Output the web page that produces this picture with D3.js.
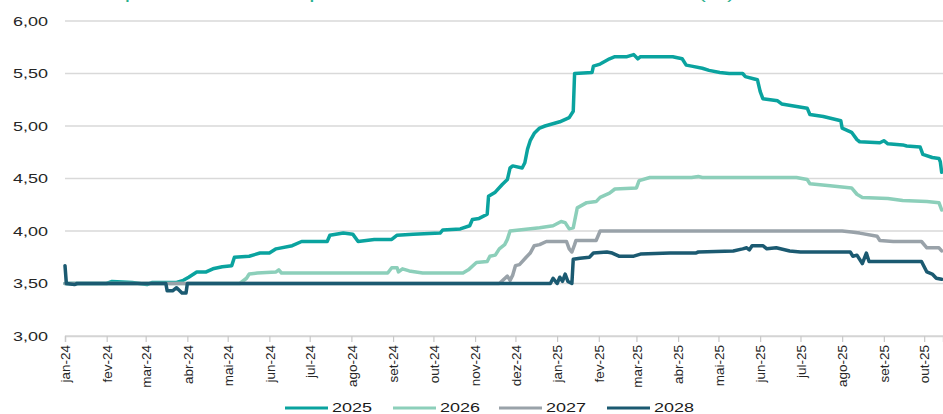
<!DOCTYPE html>
<html>
<head>
<meta charset="utf-8">
<script src="https://cdn.jsdelivr.net/npm/d3@7"></script>
<style>
  html, body { margin: 0; padding: 0; background: #ffffff; }
  svg { display: block; font-family: "Liberation Sans", Arial, sans-serif; }
</style>
</head>
<body>
<svg id="chart" width="943" height="414"></svg>
<script>
// Focus survey: market IPCA expectations per calendar year (%)
const seriesNames = ["2025", "2026", "2027", "2028"];
const seriesColors = ["#0aa39f", "#8ccfba", "#99a2a9", "#1b5a71"];

const yTicks = [3.0, 3.5, 4.0, 4.5, 5.0, 5.5, 6.0];
const monthNames = ["jan", "fev", "mar", "abr", "mai", "jun", "jul", "ago", "set", "out", "nov", "dez"];

const ipca2025 = [
  ["2024-01-01", 3.50], ["2024-02-01", 3.50], ["2024-02-05", 3.52], ["2024-02-20", 3.51],
  ["2024-03-02", 3.49], ["2024-03-06", 3.51], ["2024-03-24", 3.51], ["2024-03-29", 3.53],
  ["2024-04-02", 3.56], ["2024-04-08", 3.61], ["2024-04-15", 3.61], ["2024-04-20", 3.64],
  ["2024-04-27", 3.66], ["2024-05-04", 3.67], ["2024-05-06", 3.75], ["2024-05-17", 3.76],
  ["2024-05-25", 3.79], ["2024-06-01", 3.79], ["2024-06-06", 3.83], ["2024-06-18", 3.86],
  ["2024-06-25", 3.90], ["2024-07-14", 3.90], ["2024-07-16", 3.96], ["2024-07-26", 3.98],
  ["2024-08-02", 3.97], ["2024-08-06", 3.90], ["2024-08-18", 3.92], ["2024-08-31", 3.92],
  ["2024-09-04", 3.96], ["2024-09-16", 3.97], ["2024-10-06", 3.98], ["2024-10-08", 4.01],
  ["2024-10-21", 4.02], ["2024-10-28", 4.05], ["2024-10-30", 4.11], ["2024-11-04", 4.12],
  ["2024-11-10", 4.16], ["2024-11-11", 4.33], ["2024-11-16", 4.37], ["2024-11-21", 4.44],
  ["2024-11-25", 4.49], ["2024-11-27", 4.60], ["2024-11-29", 4.62], ["2024-12-06", 4.60],
  ["2024-12-08", 4.65], ["2024-12-10", 4.78], ["2024-12-12", 4.86], ["2024-12-15", 4.93],
  ["2024-12-19", 4.98], ["2024-12-23", 5.00], ["2025-01-03", 5.04], ["2025-01-10", 5.08],
  ["2025-01-13", 5.14], ["2025-01-14", 5.50], ["2025-01-27", 5.51], ["2025-01-28", 5.57],
  ["2025-02-02", 5.59], ["2025-02-09", 5.64], ["2025-02-13", 5.66], ["2025-02-22", 5.66],
  ["2025-02-27", 5.68], ["2025-03-02", 5.64], ["2025-03-04", 5.66], ["2025-03-28", 5.66],
  ["2025-04-04", 5.64], ["2025-04-07", 5.58], ["2025-04-11", 5.57], ["2025-04-19", 5.55],
  ["2025-04-24", 5.53], ["2025-05-02", 5.51], ["2025-05-09", 5.50], ["2025-05-19", 5.50],
  ["2025-05-21", 5.47], ["2025-05-27", 5.45], ["2025-05-30", 5.44], ["2025-06-01", 5.33],
  ["2025-06-03", 5.26], ["2025-06-14", 5.24], ["2025-06-17", 5.21], ["2025-07-06", 5.17],
  ["2025-07-08", 5.11], ["2025-07-18", 5.09], ["2025-07-31", 5.05], ["2025-08-01", 4.98],
  ["2025-08-08", 4.94], ["2025-08-12", 4.87], ["2025-08-14", 4.85], ["2025-08-29", 4.84],
  ["2025-09-01", 4.86], ["2025-09-04", 4.83], ["2025-09-15", 4.82], ["2025-09-18", 4.81],
  ["2025-09-28", 4.80], ["2025-09-30", 4.73], ["2025-10-07", 4.70], ["2025-10-12", 4.69],
  ["2025-10-13", 4.66], ["2025-10-14", 4.56]
];

const ipca2026 = [
  ["2024-01-01", 3.50], ["2024-05-10", 3.50], ["2024-05-15", 3.55], ["2024-05-17", 3.59],
  ["2024-05-23", 3.60], ["2024-06-06", 3.61], ["2024-06-08", 3.63], ["2024-06-10", 3.60],
  ["2024-08-28", 3.60], ["2024-08-31", 3.65], ["2024-09-04", 3.65], ["2024-09-05", 3.61],
  ["2024-09-08", 3.64], ["2024-09-13", 3.62], ["2024-09-23", 3.60], ["2024-10-23", 3.60],
  ["2024-10-27", 3.63], ["2024-11-02", 3.70], ["2024-11-10", 3.71], ["2024-11-12", 3.76],
  ["2024-11-16", 3.77], ["2024-11-19", 3.83], ["2024-11-23", 3.87], ["2024-11-25", 3.92],
  ["2024-11-27", 4.00], ["2024-12-19", 4.03], ["2024-12-29", 4.05], ["2025-01-04", 4.09],
  ["2025-01-07", 4.08], ["2025-01-10", 4.02], ["2025-01-13", 4.03], ["2025-01-16", 4.22],
  ["2025-01-23", 4.27], ["2025-01-30", 4.28], ["2025-02-02", 4.32], ["2025-02-09", 4.36],
  ["2025-02-13", 4.40], ["2025-03-01", 4.41], ["2025-03-03", 4.48], ["2025-03-11", 4.51],
  ["2025-04-11", 4.51], ["2025-04-16", 4.52], ["2025-04-19", 4.51], ["2025-06-28", 4.51],
  ["2025-07-06", 4.49], ["2025-07-08", 4.45], ["2025-07-23", 4.43], ["2025-08-08", 4.41],
  ["2025-08-12", 4.35], ["2025-08-16", 4.32], ["2025-09-04", 4.31], ["2025-09-15", 4.29],
  ["2025-10-03", 4.28], ["2025-10-12", 4.27], ["2025-10-14", 4.20]
];

const ipca2027 = [
  ["2024-01-01", 3.50], ["2024-11-19", 3.50], ["2024-11-25", 3.57], ["2024-11-27", 3.53],
  ["2024-11-29", 3.58], ["2024-12-01", 3.67], ["2024-12-04", 3.68], ["2024-12-09", 3.75],
  ["2024-12-12", 3.79], ["2024-12-15", 3.86], ["2024-12-19", 3.87], ["2024-12-24", 3.90],
  ["2025-01-08", 3.90], ["2025-01-10", 3.83], ["2025-01-12", 3.80], ["2025-01-14", 3.87],
  ["2025-01-15", 3.91], ["2025-01-30", 3.91], ["2025-02-02", 4.00], ["2025-08-01", 4.00],
  ["2025-08-08", 3.99], ["2025-08-14", 3.98], ["2025-08-27", 3.95], ["2025-08-29", 3.91],
  ["2025-09-08", 3.90], ["2025-09-29", 3.90], ["2025-10-03", 3.84], ["2025-10-12", 3.84],
  ["2025-10-14", 3.81]
];

const ipca2028 = [
  ["2024-01-01", 3.67], ["2024-01-02", 3.50], ["2024-01-08", 3.49], ["2024-01-10", 3.50],
  ["2024-03-16", 3.50], ["2024-03-17", 3.43], ["2024-03-21", 3.43], ["2024-03-24", 3.46],
  ["2024-03-28", 3.41], ["2024-03-31", 3.41], ["2024-04-01", 3.50], ["2024-12-27", 3.50],
  ["2024-12-29", 3.55], ["2025-01-01", 3.50], ["2025-01-03", 3.56], ["2025-01-05", 3.52],
  ["2025-01-07", 3.59], ["2025-01-09", 3.52], ["2025-01-12", 3.50], ["2025-01-13", 3.73],
  ["2025-01-18", 3.74], ["2025-01-25", 3.75], ["2025-01-28", 3.79], ["2025-02-07", 3.80],
  ["2025-02-11", 3.79], ["2025-02-16", 3.76], ["2025-02-27", 3.76], ["2025-03-04", 3.78],
  ["2025-03-26", 3.79], ["2025-04-14", 3.79], ["2025-04-16", 3.80], ["2025-05-12", 3.81],
  ["2025-05-19", 3.83], ["2025-05-22", 3.84], ["2025-05-24", 3.82], ["2025-05-26", 3.86],
  ["2025-06-03", 3.86], ["2025-06-06", 3.83], ["2025-06-13", 3.84], ["2025-06-23", 3.81],
  ["2025-07-01", 3.80], ["2025-08-07", 3.80], ["2025-08-09", 3.76], ["2025-08-12", 3.77],
  ["2025-08-16", 3.69], ["2025-08-19", 3.79], ["2025-08-21", 3.71], ["2025-09-29", 3.71],
  ["2025-10-03", 3.61], ["2025-10-07", 3.59], ["2025-10-10", 3.55], ["2025-10-14", 3.54]
];

const seriesData = [ipca2025, ipca2026, ipca2027, ipca2028];

const parse = d3.timeParse("%Y-%m-%d");
const svg = d3.select("#chart");

const x = d3.scaleUtc()
  .domain([Date.UTC(2024, 0, 1), Date.UTC(2025, 9, 15)])
  .range([65, 943]);
const y = d3.scaleLinear().domain([3, 6]).range([336, 21]);

const toUTC = s => { const d = parse(s); return new Date(Date.UTC(d.getFullYear(), d.getMonth(), d.getDate())); };

// Title (runs above the top edge of the frame)
svg.append("text")
  .attr("x", 97).attr("y", -1)
  .attr("fill", "#27b08d")
  .attr("font-size", 16)
  .attr("textLength", 638)
  .attr("lengthAdjust", "spacingAndGlyphs")
  .text("Expectativas Focus para o IPCA de cada ano-calendário (%)");

// Horizontal gridlines
svg.append("g").selectAll("line")
  .data(yTicks)
  .join("line")
  .attr("x1", 65).attr("x2", 943)
  .attr("y1", d => y(d)).attr("y2", d => y(d))
  .attr("stroke", "#d9d9d9")
  .attr("stroke-width", 1.5);

// Y axis labels (wide face)
const yAxis = d3.axisLeft(y)
  .tickValues(yTicks)
  .tickSize(0)
  .tickPadding(0)
  .tickFormat(d => d3.format(".2f")(d).replace(".", ","));
const yg = svg.append("g").attr("transform", "translate(48,0)").call(yAxis);
yg.select(".domain").remove();
yg.selectAll("text")
  .attr("font-size", 13.5)
  .attr("fill", "#262626")
  .attr("font-family", "'Liberation Sans', Arial, sans-serif")
  .attr("textLength", 35)
  .attr("lengthAdjust", "spacingAndGlyphs");

// X axis with monthly ticks
const monthTicks = d3.utcMonths(new Date(Date.UTC(2024, 0, 1)), new Date(Date.UTC(2025, 9, 2)));
const xAxis = d3.axisBottom(x)
  .tickValues(monthTicks)
  .tickSize(6)
  .tickFormat(d => monthNames[d.getUTCMonth()] + "-" + String(d.getUTCFullYear()).slice(2));
const xg = svg.append("g").attr("transform", `translate(0,${y(3)})`).call(xAxis);
xg.select(".domain").attr("stroke", "#d4d4d4").attr("stroke-width", 1.5);
xg.selectAll(".tick line").attr("stroke", "#c8c8c8").attr("stroke-width", 1.2);
xg.selectAll(".tick text")
  .attr("font-size", 13.5)
  .attr("fill", "#262626")
  .attr("font-family", "'Liberation Sans', Arial, sans-serif")
  .attr("transform", "rotate(-90)")
  .attr("text-anchor", "end")
  .attr("x", -9)
  .attr("y", 0)
  .attr("dy", "0.35em");

// Series lines
const line = d3.line()
  .x(d => x(toUTC(d[0])))
  .y(d => y(d[1]));

svg.append("g").selectAll("path")
  .data(seriesData)
  .join("path")
  .attr("d", line)
  .attr("fill", "none")
  .attr("stroke", (d, i) => seriesColors[i])
  .attr("stroke-width", 3.5)
  .attr("stroke-linejoin", "round")
  .attr("stroke-linecap", "round");

// Legend
const legendX = [285, 393, 499, 607];
const lg = svg.append("g").selectAll("g")
  .data(seriesNames)
  .join("g")
  .attr("transform", (d, i) => `translate(${legendX[i]},408)`);
lg.append("line")
  .attr("x1", 0).attr("x2", 43)
  .attr("y1", 0).attr("y2", 0)
  .attr("stroke", (d, i) => seriesColors[i])
  .attr("stroke-width", 3);
lg.append("text")
  .attr("x", 47).attr("y", 4)
  .attr("font-size", 13)
  .attr("fill", "#1a1a1a")
  .attr("textLength", 40)
  .attr("lengthAdjust", "spacingAndGlyphs")
  .text(d => d);
</script>
</body>
</html>
